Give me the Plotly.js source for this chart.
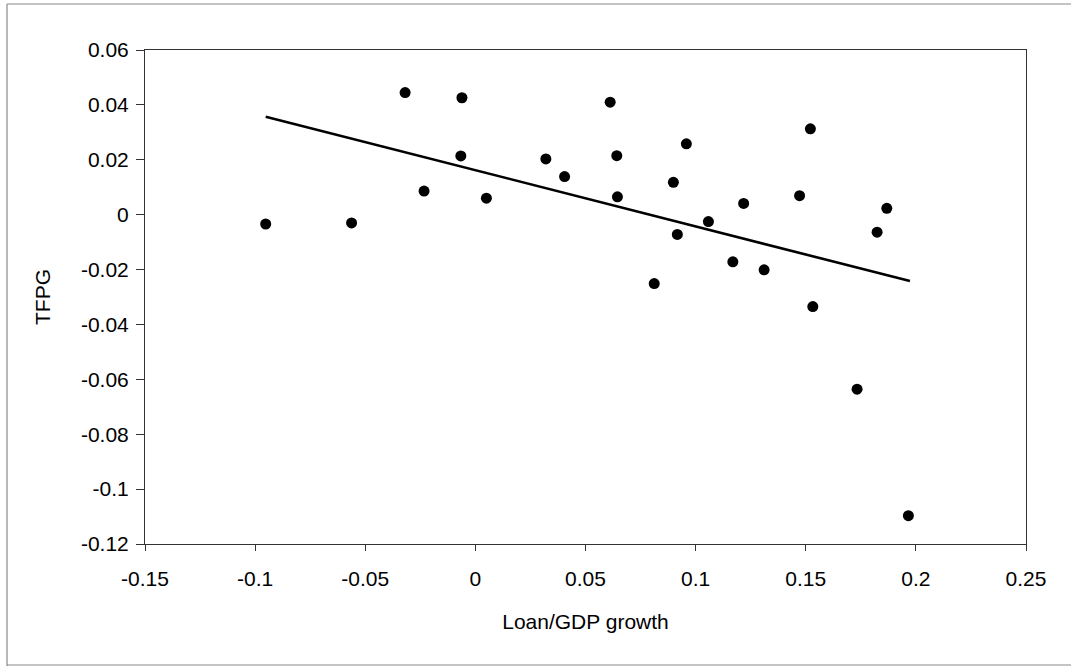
<!DOCTYPE html>
<html>
<head>
<meta charset="utf-8">
<script src="https://cdn.plot.ly/plotly-3.0.1.min.js"></script>
<style>html,body{margin:0;padding:0;background:#fff;}#chart{width:1071px;height:667px;}</style>
</head>
<body>
<div id="chart"></div>
<script>
// Loan/GDP growth (x) vs TFPG (y)
const loanGdpGrowth = [-0.0952, -0.0562, -0.0319, -0.0061, 0.0612, 0.1521, 0.0958, -0.0066, 0.0320, 0.0642,
  0.0405, -0.0233, 0.0899, 0.0050, 0.0645, 0.1472, 0.1218, 0.1868, 0.1058, 0.0917,
  0.1824, 0.1169, 0.1311, 0.0812, 0.1532, 0.1733, 0.1966];
const tfpg = [-0.0034, -0.0030, 0.0445, 0.0426, 0.0410, 0.0313, 0.0258, 0.0214, 0.0203, 0.0215,
  0.0139, 0.0086, 0.0118, 0.0060, 0.0065, 0.0069, 0.0041, 0.0023, -0.0025, -0.0072,
  -0.0064, -0.0172, -0.0201, -0.0251, -0.0335, -0.0636, -0.1097];
// Linear trend line endpoints
const trendX = [-0.0952, 0.1973];
const trendY = [0.0357, -0.0242];
const xTicks = [-0.15, -0.1, -0.05, 0, 0.05, 0.1, 0.15, 0.2, 0.25];
const xTickLabels = ['-0.15', '-0.1', '-0.05', '0', '0.05', '0.1', '0.15', '0.2', '0.25'];
const yTicks = [0.06, 0.04, 0.02, 0, -0.02, -0.04, -0.06, -0.08, -0.1, -0.12];
const yTickLabels = ['0.06', '0.04', '0.02', '0', '-0.02', '-0.04', '-0.06', '-0.08', '-0.1', '-0.12'];

const font = {family: '"Liberation Sans", Arial, sans-serif', size: 21, color: '#000'};

const traces = [
  {x: loanGdpGrowth, y: tfpg, type: 'scatter', mode: 'markers',
   marker: {color: '#000', size: 11}, showlegend: false, hoverinfo: 'x+y'},
  {x: trendX, y: trendY, type: 'scatter', mode: 'lines',
   line: {color: '#000', width: 2.6}, showlegend: false, hoverinfo: 'skip'}
];

const L = 145, R = 1026, T = 50, B = 544, W = 1071, H = 667;
const pw = R - L, ph = B - T;
const px = v => (v - L) / pw;
const py = v => (B - v) / ph;
const frameLine = {color: '#8a8a8a', width: 1.2};

const layout = {
  width: W, height: H,
  margin: {l: L, r: W - R, t: T, b: H - B, pad: 0},
  paper_bgcolor: '#fff', plot_bgcolor: '#fff',
  font: font,
  xaxis: {
    range: [-0.15, 0.25], tickvals: xTicks, ticktext: xTickLabels,
    showgrid: false, zeroline: false, showline: true, mirror: true,
    linecolor: '#333', linewidth: 1, ticks: 'outside', ticklen: 6, tickcolor: '#333',
    tickfont: font, ticklabelstandoff: 10,
    title: {text: 'Loan/GDP growth', font: font, standoff: 25}
  },
  yaxis: {
    range: [-0.12, 0.06], tickvals: yTicks, ticktext: yTickLabels,
    showgrid: false, zeroline: false, showline: true, mirror: true,
    linecolor: '#333', linewidth: 1, ticks: 'outside', ticklen: 8, tickcolor: '#333',
    tickfont: font, ticklabelstandoff: 3,
    title: {text: 'TFPG', font: font, standoff: 24}
  },
  shapes: [
    {type: 'line', xref: 'paper', yref: 'paper', x0: px(7), x1: px(7), y0: py(4), y1: py(666), line: frameLine},
    {type: 'line', xref: 'paper', yref: 'paper', x0: px(7), x1: px(1071), y0: py(4), y1: py(4), line: frameLine},
    {type: 'line', xref: 'paper', yref: 'paper', x0: px(7), x1: px(1071), y0: py(665), y1: py(665), line: frameLine}
  ]
};

Plotly.newPlot('chart', traces, layout, {displayModeBar: false, staticPlot: true});
</script>
</body>
</html>
